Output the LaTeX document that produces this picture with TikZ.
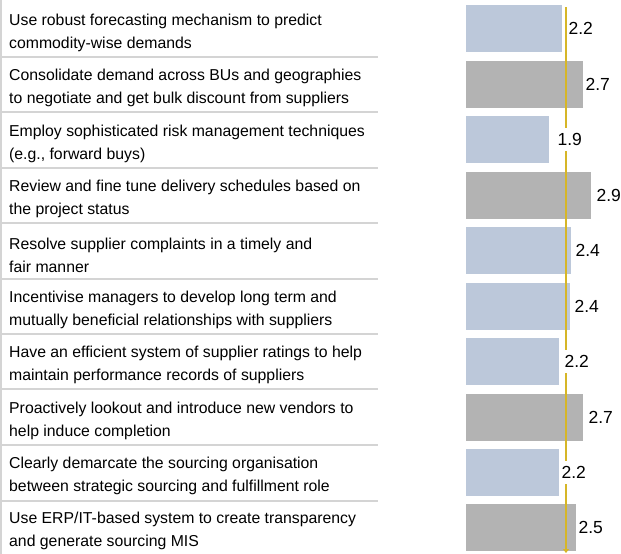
\documentclass[tikz,border=0pt]{standalone}
\usepackage{fontspec}
\setmainfont{Liberation Sans}
\usetikzlibrary{positioning}
\usetikzlibrary{arrows.meta}
\usepackage{xcolor}
\definecolor{barblue}{HTML}{BCC8DA}
\definecolor{bargrey}{HTML}{B3B3B3}
\definecolor{avggold}{HTML}{D6B628}
\definecolor{rulegrey}{HTML}{D4D4D4}

\begin{document}
\begin{tikzpicture}[x=1pt, y=-1pt,
    item/.style={anchor=west, align=left, inner sep=0pt, font=\fontsize{15.8}{23}\selectfont},
    bar/.style={anchor=west, minimum height=47pt, inner sep=0pt},
    score/.style={fill=white, inner xsep=1pt, inner ysep=5pt, font=\fontsize{17.5}{20}\selectfont}]
            \useasboundingbox (0,0) rectangle (621,554);
            \draw[rulegrey, line width=1.5pt] (1,0) -- (1,554);
            \draw[rulegrey, line width=1.2pt] (2,57) -- (378,57) (2,112) -- (378,112) (2,168) -- (378,168)
                (2,223) -- (378,223) (2,279) -- (378,279) (2,334) -- (378,334) (2,389) -- (378,389)
                (2,445) -- (378,445) (2,501) -- (378,501);

            \node[item] (t1) at (9,33) {Use robust forecasting mechanism to predict\\commodity-wise demands};
            \node[item] (t2) at (9,88) {Consolidate demand across BUs and geographies\\to negotiate and get bulk discount from suppliers};
            \node[item] (t3) at (9,144) {Employ sophisticated risk management techniques\\(e.g., forward buys)};
            \node[item] (t4) at (9,199) {Review and fine tune delivery schedules based on\\the project status};
            \node[item] (t5) at (9,255) {Resolve supplier complaints in a timely and\\fair manner};
            \node[item] (t6) at (9,310) {Incentivise managers to develop long term and\\mutually beneficial relationships with suppliers};
            \node[item] (t7) at (9,365) {Have an efficient system of supplier ratings to help\\maintain performance records of suppliers};
            \node[item] (t8) at (9,421) {Proactively lookout and introduce new vendors to\\help induce completion};
            \node[item] (t9) at (9,476) {Clearly demarcate the sourcing organisation\\between strategic sourcing and fulfillment role};
            \node[item] (t10) at (9,531) {Use ERP/IT-based system to create transparency\\and generate sourcing MIS};

            \node[bar, fill=barblue, minimum width=96pt] (b1) at (466,28.5) {};
            \node[bar, fill=bargrey, minimum width=117pt] (b2) at (466,84) {};
            \node[bar, fill=barblue, minimum width=83pt] (b3) at (466,139.5) {};
            \node[bar, fill=bargrey, minimum width=125pt] (b4) at (466,195) {};
            \node[bar, fill=barblue, minimum width=105pt] (b5) at (466,250.5) {};
            \node[bar, fill=barblue, minimum width=104pt] (b6) at (466,306) {};
            \node[bar, fill=barblue, minimum width=93pt] (b7) at (466,361.5) {};
            \node[bar, fill=bargrey, minimum width=117pt] (b8) at (466,417) {};
            \node[bar, fill=barblue, minimum width=93pt] (b9) at (466,472.5) {};
            \node[bar, fill=bargrey, minimum width=110pt] (b10) at (466,527.5) {};

            \coordinate (avgtop) at (566,7);
            \coordinate (avgbot) at (566,553);
            \draw[avggold, line width=2pt, -{Triangle[length=4pt, width=6pt]}] (avgtop) -- (avgbot);

            \node[score, right=5pt of b1] (v1) {2.2};
            \node[score, right=1pt of b2] (v2) {2.7};
            \node[score, right=7pt of b3] (v3) {1.9};
            \node[score, right=4pt of b4] (v4) {2.9};
            \node[score, right=3pt of b5] (v5) {2.4};
            \node[score, right=3pt of b6] (v6) {2.4};
            \node[score, right=4pt of b7] (v7) {2.2};
            \node[score, right=4pt of b8] (v8) {2.7};
            \node[score, right=1pt of b9] (v9) {2.2};
            \node[score, right=1pt of b10] (v10) {2.5};
        \end{tikzpicture}
\end{document}
